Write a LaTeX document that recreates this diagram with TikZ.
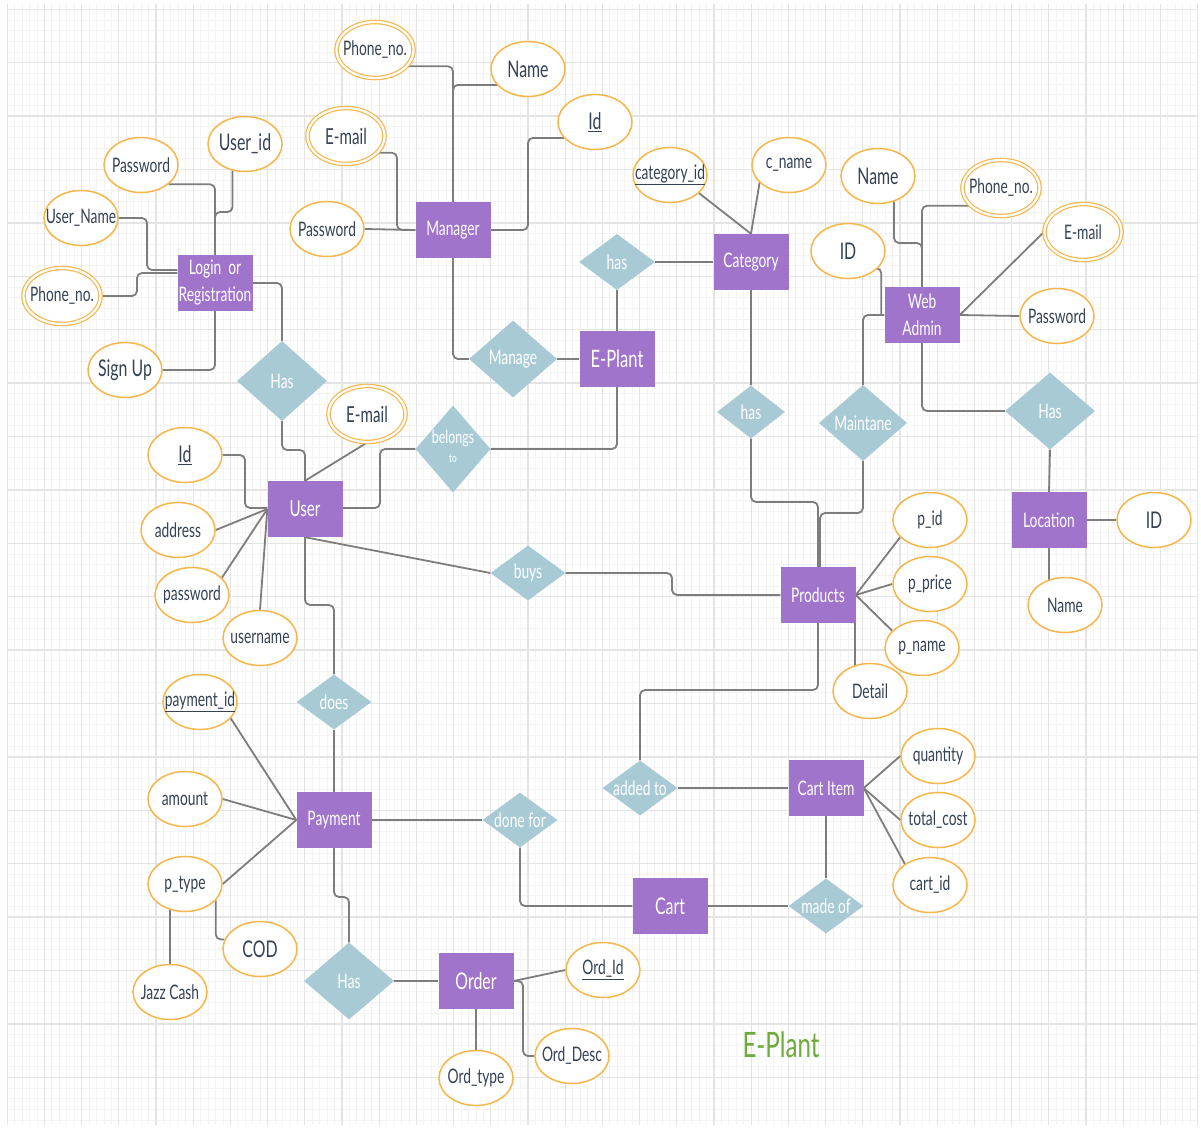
\documentclass[tikz,border=0pt]{standalone}
\usepackage{fontspec}
\usetikzlibrary{shapes.geometric}
\newfontfamily\erfont[FakeStretch=0.69]{Lato}
\definecolor{entpurple}{HTML}{A174CC}
\definecolor{relblue}{HTML}{A8CAD5}
\definecolor{attrorange}{HTML}{F6B64C}
\definecolor{attrtext}{HTML}{344254}
\definecolor{linegrey}{HTML}{7D7D7D}
\definecolor{titlegreen}{HTML}{6EAA3C}
\definecolor{gridminor}{HTML}{F3F3F3}
\definecolor{gridmajor}{HTML}{E4E4E4}
\pgfdeclarelayer{gridlayer}
\pgfdeclarelayer{lines}
\pgfsetlayers{gridlayer,lines,main}
% zero-width box so that a label never enlarges its shape
\newcommand\zw[1]{\makebox[0pt]{#1}}
\tikzset{
  ent/.style={rectangle, fill=entpurple, text=white, minimum width=75pt,
    minimum height=56pt, inner sep=0pt, align=center,
    font=\erfont\fontsize{20}{27}\selectfont},
  bigent/.style={ent, font=\erfont\fontsize{23}{26}\selectfont},
  attr/.style={ellipse, draw=attrorange, line width=1.5pt, fill=white,
    text=attrtext, minimum width=74pt, minimum height=55pt, inner sep=0pt,
    font=\erfont\fontsize{20}{22}\selectfont},
  bigattr/.style={attr, font=\erfont\fontsize{23}{24}\selectfont},
  mattr/.style={attr, double=white, double distance=2.2pt, line width=1.2pt,
    minimum width=77pt, minimum height=56pt},
  rel/.style={diamond, fill=relblue, text=white, inner sep=0pt,
    font=\erfont\fontsize{20}{22}\selectfont},
  relS/.style={rel, minimum width=75pt, minimum height=55pt},
  relL/.style={rel, minimum width=90pt, minimum height=78pt},
  conn/.style={draw=linegrey, line width=1.8pt, rounded corners=5pt},
}
\begin{document}
\begin{tikzpicture}[x=1pt,y=-1pt]
\useasboundingbox (0,0) rectangle (1201,1127);

% squared paper
\begin{pgfonlayer}{gridlayer}
  \fill[white] (0,0) rectangle (1201,1127);
  \begin{scope}
    \clip (7,4) rectangle (1198,1125);
    \foreach \i in {0,...,160}
      \draw[gridminor, line width=0.8pt] ({7.2+\i*7.44},4) -- ({7.2+\i*7.44},1125);
    \foreach \j in {0,...,104}
      \draw[gridminor, line width=0.8pt] (7,{9.3+\j*10.68}) -- (1198,{9.3+\j*10.68});
    \foreach \i in {0,...,32}
      \draw[gridmajor, line width=1.3pt] ({7.2+\i*37.2},4) -- ({7.2+\i*37.2},1125);
    \foreach \j in {0,...,20}
      \draw[gridmajor, line width=1.3pt] (7,{9.3+\j*53.4}) -- (1198,{9.3+\j*53.4});
  \end{scope}
\end{pgfonlayer}

% entities
\node[ent] (login) at (215,283) {Login~ or\\Registration};
\node[ent] (manager) at (453,230) {Manager};
\node[bigent, font=\erfont\fontsize{24}{26}\selectfont] (eplant) at (617,359) {E-Plant};
\node[ent] (category) at (751,262) {Category};
\node[ent] (webadmin) at (922,315) {Web\\Admin};
\node[ent, font=\erfont\fontsize{22}{24}\selectfont] (user) at (305,509) {User};
\node[ent] (products) at (818,595) {Products};
\node[ent] (location) at (1049,520) {Location};
\node[ent] (payment) at (334,820) {Payment};
\node[ent] (cartitem) at (826,788) {Cart Item};
\node[bigent] (cart) at (670,906) {Cart};
\node[bigent] (order) at (476,981) {Order};

% relationships
\node[relL, minimum height=80pt] (hasLogin) at (282,381) {\zw{Has}};
\node[relL, minimum width=88pt, minimum height=77pt] (manage) at (513,359) {\zw{Manage}};
\node[rel, minimum width=76pt, minimum height=56pt] (hasCat) at (617,262) {\zw{has}};
\node[rel, minimum width=75pt, minimum height=87pt] (belongs) at (453,449)
  {\zw{\begin{tabular}{@{}c@{}}{\fontsize{18}{18}\selectfont belongs}\\[-3pt]{\fontsize{12}{12}\selectfont to}\end{tabular}}};
\node[rel, minimum width=68pt, minimum height=53pt] (hasProd) at (751,412) {\zw{has}};
\node[relL, minimum width=88pt, minimum height=76pt] (maintane) at (863,423) {\zw{Maintane}};
\node[relL, minimum height=77pt] (hasLoc) at (1050,411) {\zw{Has}};
\node[relS] (buys) at (528,573) {\zw{buys}};
\node[relS] (does) at (334,702) {\zw{does}};
\node[relS] (addedto) at (640,788) {\zw{added to}};
\node[relS] (donefor) at (520,820) {\zw{done for}};
\node[relS] (madeof) at (826,906) {\zw{made of}};
\node[relL, minimum height=77pt] (hasOrder) at (349,981) {\zw{Has}};

% attributes of Login or Registration
\node[attr] (loginPw) at (141,165) {\zw{Password}};
\node[bigattr] (loginUid) at (245,144) {\zw{User\_id}};
\node[attr] (loginUname) at (81,218) {\zw{User\_Name}};
\node[mattr] (loginPhone) at (62,296) {\zw{Phone\_no.}};
\node[bigattr] (signUp) at (125,370) {\zw{Sign Up}};
% attributes of Manager
\node[mattr] (mgrPhone) at (375,50) {\zw{Phone\_no.}};
\node[bigattr] (mgrName) at (528,69) {\zw{Name}};
\node[bigattr] (mgrId) at (595,122) {\zw{\underline{Id}}};
\node[mattr, font=\erfont\fontsize{22}{24}\selectfont] (mgrEmail) at (346,136) {\zw{E-mail}};
\node[attr] (mgrPw) at (327,229) {\zw{Password}};
% attributes of Category
\node[attr] (catId) at (670,175) {\zw{\underline{category\_id}}};
\node[attr] (catName) at (789,165) {\zw{c\_name}};
% attributes of Web Admin
\node[bigattr] (waName) at (878,176) {\zw{Name}};
\node[mattr] (waPhone) at (1001,188) {\zw{Phone\_no.}};
\node[mattr] (waEmail) at (1083,232) {\zw{E-mail}};
\node[bigattr] (waId) at (848,251) {\zw{ID}};
\node[attr] (waPw) at (1057,316) {\zw{Password}};
% attributes of Location
\node[bigattr] (locId) at (1154,520) {\zw{ID}};
\node[attr] (locName) at (1065,605) {\zw{Name}};
% attributes of User
\node[mattr, font=\erfont\fontsize{22}{24}\selectfont] (userEmail) at (367,414) {\zw{E-mail}};
\node[bigattr] (userId) at (185,455) {\zw{\underline{Id}}};
\node[attr] (userAddr) at (178,530) {\zw{address}};
\node[attr] (userPw) at (192,595) {\zw{password}};
\node[attr] (userName) at (260,638) {\zw{username}};
% attributes of Products
\node[attr] (pId) at (930,520) {\zw{p\_id}};
\node[attr] (pPrice) at (930,584) {\zw{p\_price}};
\node[attr] (pName) at (922,648) {\zw{p\_name}};
\node[attr] (pDetail) at (870,691) {\zw{Detail}};
% attributes of Cart Item
\node[attr] (ciQty) at (938,756) {\zw{quantity}};
\node[attr] (ciCost) at (938,820) {\zw{total\_cost}};
\node[attr] (ciId) at (930,885) {\zw{cart\_id}};
% attributes of Payment
\node[attr] (payId) at (200,702) {\zw{\underline{payment\_id}}};
\node[attr] (payAmount) at (185,799) {\zw{amount}};
\node[attr] (payType) at (185,884) {\zw{p\_type}};
\node[bigattr] (payCod) at (260,949) {\zw{COD}};
\node[attr] (payJazz) at (170,992) {\zw{Jazz Cash}};
% attributes of Order
\node[attr] (ordId) at (603,970) {\zw{\underline{Ord\_Id}}};
\node[attr] (ordDesc) at (572,1056) {\zw{Ord\_Desc}};
\node[attr] (ordType) at (476,1078) {\zw{Ord\_type}};

% title
\node[font=\erfont\fontsize{35}{38}\selectfont, text=titlegreen] (title) at (781,1045) {E-Plant};

% connectors
\begin{pgfonlayer}{lines}
  % Login or Registration
  \draw[conn] (loginPw.-35) -| (login.north);
  \draw[conn] (loginUid.-115) -- (loginUid.-115 |- 0,212) -| (login.north);
  \draw[conn] (loginUname.east) -| (147,270) -- (login.west |- 0,270);
  \draw[conn] (loginPhone.east) -| (137,273) -- (login.west |- 0,273);
  \draw[conn] (signUp.east) -| (login.south);
  \draw[conn] (login.east) -| (hasLogin.north);
  \draw[conn] (hasLogin.south) |- (user.north |- 0,450) -- (user.north);
  % Manager
  \draw[conn] (mgrPhone.-27) -| (manager.north);
  \draw[conn] (mgrName.-153) -| (manager.north);
  \draw[conn] (mgrEmail.-28) -| (397,230) -- (manager.west);
  \draw[conn] (mgrPw.east) -- (manager.west);
  \draw[conn] (mgrId.-153) -| (528,230) -- (manager.east);
  \draw[conn] (manager.south) |- (manage.west);
  \draw[conn] (manage.east) -- (eplant.west);
  % E-Plant and Category
  \draw[conn] (hasCat.south) -- (eplant.north);
  \draw[conn] (hasCat.east) -- (category.west);
  \draw[conn] (catId.-32) -- (category.north);
  \draw[conn] (catName.-149) -- (category.north);
  \draw[conn] (category.south) -- (hasProd.north);
  \draw[conn] (hasProd.south) |- (products.north |- 0,502) -- (products.north);
  \draw[conn] (eplant.south) |- (belongs.east);
  \draw[conn] (belongs.west) -| (380,508) -- (user.east |- 0,508);
  % Web Admin and Location
  \draw[conn] (maintane.south) |- ([xshift=2pt]products.north |- 0,513) -- ([xshift=2pt]products.north);
  \draw[conn] (maintane.north) |- (webadmin.west);
  \draw[conn] (waId.-30) -| ([xshift=-3pt]webadmin.west);
  \draw[conn] (waName.-58) |- (webadmin.north |- 0,243) -- (webadmin.north);
  \draw[conn] (waPhone.-150) -| (webadmin.north);
  \draw[conn] (waEmail.west) -- (webadmin.east);
  \draw[conn] (webadmin.east) -- (waPw.west);
  \draw[conn] (webadmin.south) |- (hasLoc.west);
  \draw[conn] (hasLoc.south) -- (location.north);
  \draw[conn] (location.east) -- (locId.west);
  \draw[conn] (location.south) -- (location.south |- locName.center);
  % User
  \draw[conn] (userEmail.south) -- (user.north);
  \draw[conn] (userId.east) -| (245,508) -- (user.west |- 0,508);
  \draw[conn] (userAddr.east) -- (user.west);
  \draw[conn] (userPw.30) -- (user.west);
  \draw[conn] (userName.north) -- (user.west);
  \draw[conn] (user.south) -- (buys.west);
  \draw[conn] (buys.east) -| (672,595) -- (products.west);
  \draw[conn] (user.south) |- (does.north |- 0,605) -- (does.north);
  \draw[conn] (does.south) -- (payment.north);
  % Products
  \draw[conn] (products.east) -- (pId.-150);
  \draw[conn] (products.east) -- (pPrice.west);
  \draw[conn] (products.east) -- (pName.150);
  \draw[conn] ([xshift=-1pt]products.south east) -- ([xshift=-1pt]products.south east |- pDetail.center);
  \draw[conn] (products.south) |- (addedto.north |- 0,690) -- (addedto.north);
  \draw[conn] (addedto.east) -- (cartitem.west);
  % Cart Item and Cart
  \draw[conn] (cartitem.east) -- (ciQty.west);
  \draw[conn] (cartitem.east) -- (ciCost.west);
  \draw[conn] (cartitem.east) -- (ciId.140);
  \draw[conn] (cartitem.south) -- (madeof.north);
  \draw[conn] (cart.east) -- (madeof.west);
  \draw[conn] (donefor.south) |- (cart.west);
  \draw[conn] (payment.east) -- (donefor.west);
  % Payment and Order
  \draw[conn] (payId.-28) -- (payment.west);
  \draw[conn] (payAmount.east) -- (payment.west);
  \draw[conn] (payType.east) -- (payment.west);
  \draw[conn] (payJazz.north) -- (payJazz.north |- payType.center);
  \draw[conn] (payType.-28) |- (payCod.165);
  \draw[conn] (payment.south) |- (hasOrder.north |- 0,897) -- (hasOrder.north);
  \draw[conn] (hasOrder.east) -- (order.west);
  \draw[conn] (order.east) -- (ordId.west);
  \draw[conn] (order.east) -| (523,1056) -- (ordDesc.west);
  \draw[conn] (order.south) -- (ordType.north);
\end{pgfonlayer}
\end{tikzpicture}
\end{document}
